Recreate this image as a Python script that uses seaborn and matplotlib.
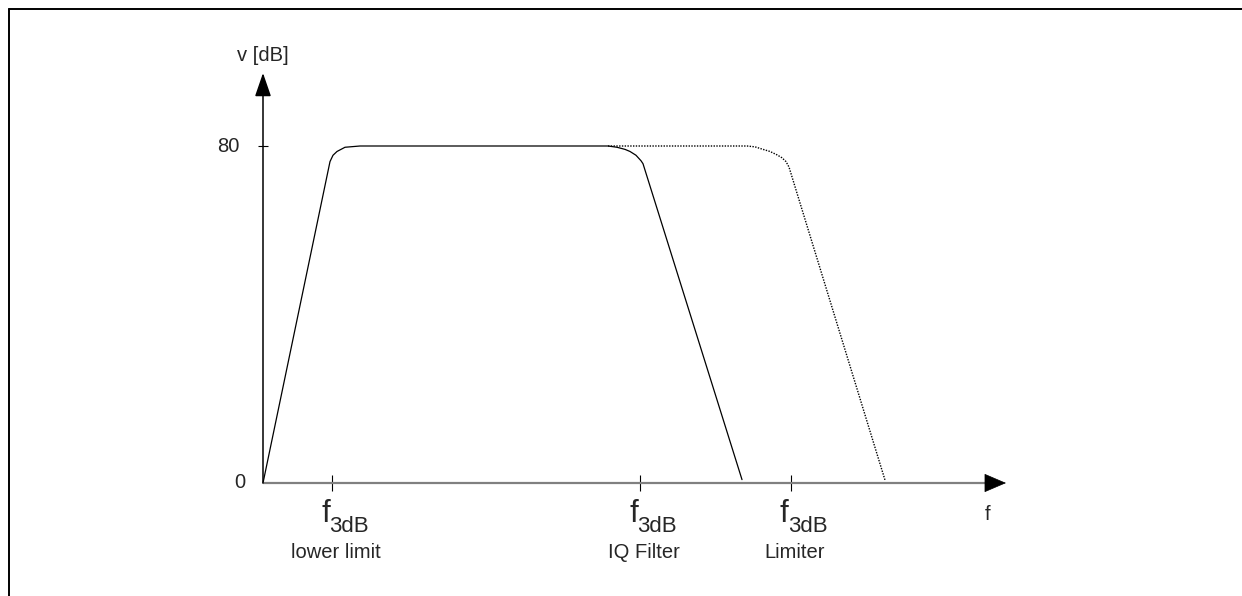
import matplotlib
matplotlib.use("Agg")
import matplotlib.pyplot as plt
from matplotlib.lines import Line2D
import seaborn as sns

# ── Data (frequency in arbitrary units, gain in dB) ─────────────────────────
iq_freq = [0, 67, 70, 74, 82, 97, 345, 354, 362, 367, 373, 378, 380, 479]
iq_gain = [0, 76.3, 77.8, 78.7, 79.7, 80, 80, 79.7, 79.2, 78.7, 77.8, 76.5, 75.8, 0.8]

lim_freq = [345, 484, 492, 500, 507, 514, 519, 523, 526, 622]
lim_gain = [80, 80, 79.8, 79.2, 78.7, 77.9, 77.2, 76.3, 75.0, 0.7]

tick_freq = [69, 377, 528]
tick_names = ["lower limit", "IQ Filter", "Limiter"]
gain_ticks = [0, 80]

# ── Setup ───────────────────────────────────────────────────────────────────
sns.set_theme(style="white")
plt.rcParams["font.family"] = ["Liberation Sans", "DejaVu Sans"]

W, H = 1242, 596
x0, y0 = 263, 483          # pixel position of the origin
ky = 337 / 80              # pixels per dB
PT = 0.72                  # points per pixel at dpi 100
FS = 14.5

fig = plt.figure(figsize=(W / 100, H / 100), dpi=100)
ax = fig.add_axes([0, 0, 1, 1])
ax.set_xlim(-x0, W - x0)
ax.set_ylim(-(H - y0) / ky, y0 / ky)
for s in ax.spines.values():
    s.set_visible(False)

# curves
sns.lineplot(x=iq_freq, y=iq_gain, sort=False, estimator=None, color="black",
             lw=0.9, ax=ax)
sns.lineplot(x=lim_freq, y=lim_gain, sort=False, estimator=None, color="black",
             lw=1.0, ax=ax, linestyle=(0, (1, 1)))

# x axis (gray line with black arrow head)
x_end = 743
ax.plot([0, x_end - 20], [0, 0], color="#808080", lw=1.6, solid_capstyle="butt")
ax.annotate("", xy=(x_end, 0), xytext=(x_end - 20, 0),
            arrowprops=dict(arrowstyle="-|>,head_length=1.45,head_width=0.62",
                            color="black", lw=0.5, shrinkA=0, shrinkB=0,
                            mutation_scale=10))

# y axis
y_end = (y0 - 73) / ky
ax.annotate("", xy=(0, y_end), xytext=(0, 0),
            arrowprops=dict(arrowstyle="-|>,head_length=1.45,head_width=0.5",
                            color="black", lw=1.1, shrinkA=0, shrinkB=0,
                            mutation_scale=10))

# ticks
ax.set_xticks(tick_freq)
ax.set_xticklabels([""] * len(tick_freq))
ax.set_yticks([80])
ax.set_yticklabels([""])
ax.tick_params(axis="x", direction="inout", length=11, width=0.8, color="black",
               bottom=True)
ax.tick_params(axis="y", direction="inout", length=6.5, width=0.8, color="black",
               left=True)
ax.spines["bottom"].set_position(("data", 0))
ax.spines["left"].set_position(("data", 0))

for xf, name in zip(tick_freq, tick_names):
    ax.annotate("f", xy=(xf, 0), xytext=(-11 * PT, -39 * PT),
                textcoords="offset points", ha="left", va="baseline", fontsize=22.5)
    ax.annotate("3dB", xy=(xf, 0), xytext=(-2.5 * PT, -49 * PT),
                textcoords="offset points", ha="left", va="baseline", fontsize=16)
    ax.annotate(name, xy=(xf, 0), xytext=(4 * PT, -75 * PT),
                textcoords="offset points", ha="center", va="baseline", fontsize=FS)

for g, dx in zip(gain_ticks, [-18, -24]):
    ax.annotate(str(g), xy=(0, g), xytext=(dx * PT, 0), textcoords="offset points",
                ha="right", va="center", fontsize=FS)

ax.text(0, (y0 - 55) / ky, "v [dB]", ha="center", va="center", fontsize=FS)
ax.text(988 - x0, -(515 - y0) / ky, "f", ha="center", va="center", fontsize=FS)

# frame
fx, fy = 8.5 / W, 1 - 8.5 / H
fig.add_artist(Line2D([fx, fx], [0, fy], transform=fig.transFigure,
                      color="black", lw=1.4))
fig.add_artist(Line2D([fx, 1], [fy, fy], transform=fig.transFigure,
                      color="black", lw=1.4))

fig.savefig("out.png", dpi=100)
